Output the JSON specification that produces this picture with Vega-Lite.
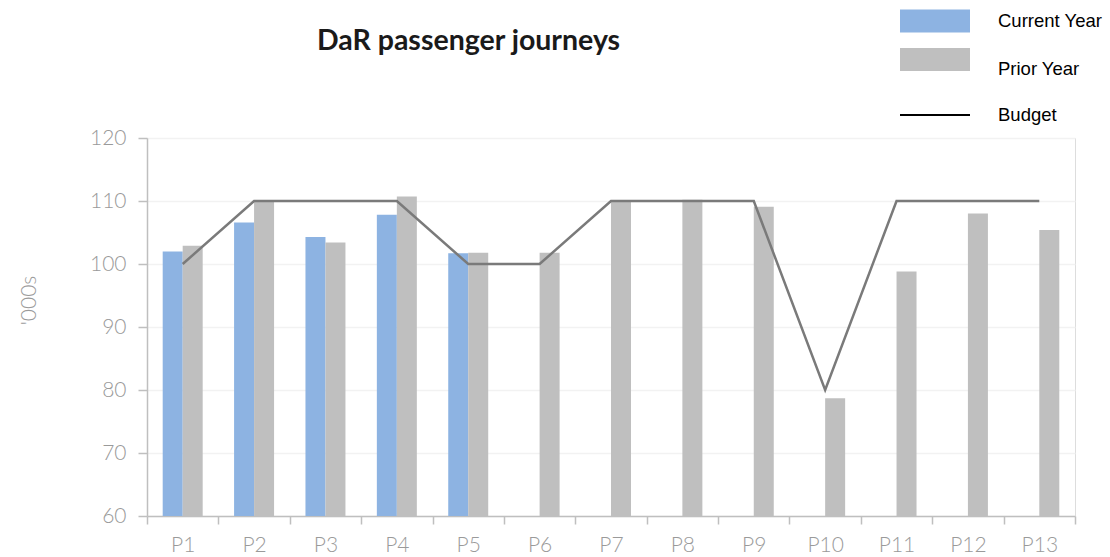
{
  "$schema": "https://vega.github.io/schema/vega-lite/v6.json",
  "width": 928,
  "height": 378,
  "autosize": {"type": "none"},
  "padding": {"left": 147, "top": 138, "right": 35, "bottom": 41},
  "background": "white",
  "title": {
    "text": "DaR passenger journeys",
    "font": "Lato",
    "fontWeight": "bold",
    "fontSize": 28.5,
    "color": "#1a1a1a",
    "anchor": "start",
    "frame": "group",
    "dx": 170,
    "baseline": "alphabetic",
    "offset": -92
  },
  "data": {
    "values": [
      {"period": "P1", "series": "Current Year", "value": 102.0},
      {"period": "P1", "series": "Prior Year", "value": 102.9},
      {"period": "P1", "series": "Budget", "value": 100},
      {"period": "P2", "series": "Current Year", "value": 106.6},
      {"period": "P2", "series": "Prior Year", "value": 110.0},
      {"period": "P2", "series": "Budget", "value": 110},
      {"period": "P3", "series": "Current Year", "value": 104.3},
      {"period": "P3", "series": "Prior Year", "value": 103.4},
      {"period": "P3", "series": "Budget", "value": 110},
      {"period": "P4", "series": "Current Year", "value": 107.8},
      {"period": "P4", "series": "Prior Year", "value": 110.7},
      {"period": "P4", "series": "Budget", "value": 110},
      {"period": "P5", "series": "Current Year", "value": 101.7},
      {"period": "P5", "series": "Prior Year", "value": 101.8},
      {"period": "P5", "series": "Budget", "value": 100},
      {"period": "P6", "series": "Prior Year", "value": 101.8},
      {"period": "P6", "series": "Budget", "value": 100},
      {"period": "P7", "series": "Prior Year", "value": 110.0},
      {"period": "P7", "series": "Budget", "value": 110},
      {"period": "P8", "series": "Prior Year", "value": 110.2},
      {"period": "P8", "series": "Budget", "value": 110},
      {"period": "P9", "series": "Prior Year", "value": 109.1},
      {"period": "P9", "series": "Budget", "value": 110},
      {"period": "P10", "series": "Prior Year", "value": 78.7},
      {"period": "P10", "series": "Budget", "value": 80},
      {"period": "P11", "series": "Prior Year", "value": 98.8},
      {"period": "P11", "series": "Budget", "value": 110},
      {"period": "P12", "series": "Prior Year", "value": 108.0},
      {"period": "P12", "series": "Budget", "value": 110},
      {"period": "P13", "series": "Prior Year", "value": 105.4},
      {"period": "P13", "series": "Budget", "value": 110}
    ]
  },
  "encoding": {
    "x": {
      "field": "period",
      "type": "nominal",
      "sort": ["P1","P2","P3","P4","P5","P6","P7","P8","P9","P10","P11","P12","P13"],
      "scale": {"paddingInner": 0, "paddingOuter": 0},
      "axis": {
        "title": null,
        "labelAngle": 0,
        "tickBand": "extent",
        "domainColor": "#bfbfbf",
        "domainWidth": 1.5,
        "tickColor": "#bfbfbf",
        "tickWidth": 1.5,
        "tickSize": 8,
        "labelFont": "Lato",
        "labelFontWeight": 300,
        "labelFontSize": 21,
        "labelColor": "#9a9a9a",
        "labelPadding": 10,
        "grid": false
      }
    },
    "y": {
      "field": "value",
      "type": "quantitative",
      "scale": {"domain": [60, 120], "zero": false, "nice": false},
      "axis": {
        "title": "'000s",
        "titleFont": "Lato",
        "titleFontWeight": 300,
        "titleFontSize": 21,
        "titleColor": "#9a9a9a",
        "titleAngle": -90,
        "titleX": -118,
        "titleY": 162,
        "titleAlign": "center",
        "titleBaseline": "middle",
        "values": [60, 70, 80, 90, 100, 110, 120],
        "domainColor": "#bfbfbf",
        "domainWidth": 1.5,
        "tickColor": "#bfbfbf",
        "tickWidth": 1.5,
        "tickSize": 9,
        "labelFont": "Lato",
        "labelFontWeight": 300,
        "labelFontSize": 21,
        "labelColor": "#9a9a9a",
        "labelPadding": 12,
        "grid": true,
        "gridColor": "#f2f2f2",
        "gridWidth": 1.5
      }
    }
  },
  "layer": [
    {
      "transform": [{"filter": "datum.series !== 'Budget'"}],
      "mark": {"type": "bar", "clip": true},
      "encoding": {
        "y2": {"datum": 60},
        "xOffset": {
          "field": "series",
          "type": "nominal",
          "sort": ["Current Year", "Prior Year"],
          "scale": {"domain": ["Current Year", "Prior Year"], "paddingInner": 0, "paddingOuter": 0.785}
        },
        "color": {
          "field": "series",
          "type": "nominal",
          "scale": {
            "domain": ["Current Year", "Prior Year", "Budget"],
            "range": ["#8db3e2", "#bfbfbf", "#000000"]
          },
          "legend": {
            "orient": "none",
            "legendX": 753,
            "legendY": -152,
            "title": null,
            "symbolType": "M-1,-0.33H1V0.33H-1Z",
            "symbolSize": 4900,
            "symbolStrokeWidth": 0,
            "labelFont": "Liberation Sans",
            "labelFontSize": 18.5,
            "labelColor": "#000000",
            "labelOffset": 28,
            "rowPadding": 1,
            "encode": {
              "symbols": {
                "update": {
                  "shape": {"signal": "datum.value === 'Budget' ? 'M-1,-0.03H1V0.03H-1Z' : (datum.value === 'Prior Year' ? 'M-1,-0.6H1V0.057H-1Z' : 'M-1,-0.33H1V0.33H-1Z')"}
                }
              }
            }
          }
        }
      }
    },
    {
      "transform": [{"filter": "datum.series === 'Budget'"}],
      "mark": {"type": "line", "color": "#7a7a7a", "strokeWidth": 2.5},
      "encoding": {}
    }
  ]
}
